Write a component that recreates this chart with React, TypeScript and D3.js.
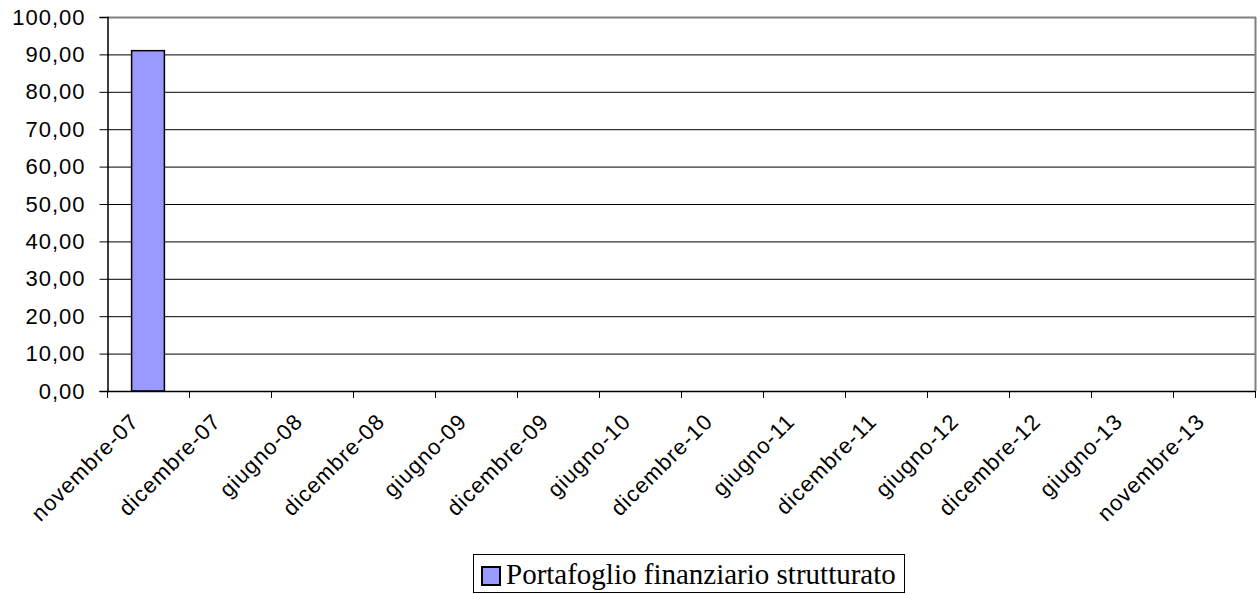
import React, { useEffect, useRef } from 'react';
import * as d3 from 'd3';

const categories = [
  'novembre-07', 'dicembre-07', 'giugno-08', 'dicembre-08', 'giugno-09', 'dicembre-09',
  'giugno-10', 'dicembre-10', 'giugno-11', 'dicembre-11', 'giugno-12', 'dicembre-12',
  'giugno-13', 'novembre-13',
];
const values = [91, 0, 0, 0, 0, 0, 0, 0, 0, 0, 0, 0, 0, 0];
const yTicks = [0, 10, 20, 30, 40, 50, 60, 70, 80, 90, 100];
const seriesName = 'Portafoglio finanziario strutturato';

const App = () => {
  const svgRef = useRef<SVGSVGElement>(null);

  useEffect(() => {
    const svg = d3.select(svgRef.current);
    svg.selectAll('*').remove();

    const left = 107;
    const right = 1255;
    const top = 17;
    const bottom = 391;

    const x = d3.scaleBand().domain(categories).range([left, right]).paddingInner(0).paddingOuter(0);
    const y = d3.scaleLinear().domain([0, 100]).range([bottom, top]);

    // gridlines
    svg.selectAll('.grid')
      .data(yTicks.filter(t => t > 0 && t < 100))
      .enter().append('line')
      .attr('x1', left).attr('x2', right)
      .attr('y1', d => y(d) + 0.5).attr('y2', d => y(d) + 0.5)
      .attr('stroke', '#000').attr('stroke-width', 1);

    // top and right border
    svg.append('line').attr('x1', left).attr('x2', right + 1)
      .attr('y1', top + 0.5).attr('y2', top + 0.5)
      .attr('stroke', '#808080').attr('stroke-width', 2);
    svg.append('line').attr('x1', right + 0.5).attr('x2', right + 0.5)
      .attr('y1', top).attr('y2', bottom)
      .attr('stroke', '#808080').attr('stroke-width', 2);

    // bars
    svg.selectAll('.bar')
      .data(categories.map((c, i) => ({ c, v: values[i] })).filter(d => d.v > 0))
      .enter().append('rect')
      .attr('x', d => x(d.c)! + x.bandwidth() * 0.3)
      .attr('width', x.bandwidth() * 0.4)
      .attr('y', d => y(d.v))
      .attr('height', d => y(0) - y(d.v))
      .attr('fill', '#9999ff')
      .attr('stroke', '#000')
      .attr('stroke-width', 1.5);

    // y axis
    const yAxis = d3.axisLeft(y).tickValues(yTicks).tickSize(8)
      .tickFormat(d => d3.format('.2f')(d as number).replace('.', ','));
    const ya = svg.append('g').attr('transform', `translate(${left + 0.5},0)`).call(yAxis);
    ya.select('.domain').attr('stroke', '#000').attr('stroke-width', 1.5);
    ya.selectAll('.tick line').attr('stroke', '#000');
    ya.selectAll('text')
      .attr('x', -22)
      .attr('font-family', 'Liberation Sans, Arial, sans-serif')
      .attr('font-size', 22)
      .attr('letter-spacing', 1)
      .attr('fill', '#000');

    // x axis
    svg.append('line').attr('x1', left).attr('x2', right)
      .attr('y1', bottom + 0.5).attr('y2', bottom + 0.5)
      .attr('stroke', '#000').attr('stroke-width', 1.5);
    const edges = categories.map(c => x(c)!).concat([right]);
    svg.selectAll('.xtick')
      .data(edges)
      .enter().append('line')
      .attr('x1', d => d + 0.5).attr('x2', d => d + 0.5)
      .attr('y1', bottom).attr('y2', bottom + 7)
      .attr('stroke', '#000');

    svg.selectAll('.xlabel')
      .data(categories)
      .enter().append('text')
      .attr('transform', d => `translate(${x(d)! + x.bandwidth() / 2 - 8},${bottom + 32}) rotate(-45)`)
      .attr('text-anchor', 'end')
      .attr('font-family', 'Liberation Sans, Arial, sans-serif')
      .attr('font-size', 22)
      .attr('letter-spacing', 1)
      .attr('fill', '#000')
      .text(d => d);

    // legend
    const lg = svg.append('g');
    lg.append('rect')
      .attr('x', 473.5).attr('y', 554.5).attr('width', 431).attr('height', 38)
      .attr('fill', '#fff').attr('stroke', '#000').attr('stroke-width', 1);
    lg.append('rect')
      .attr('x', 482).attr('y', 567).attr('width', 18).attr('height', 18)
      .attr('fill', '#9999ff').attr('stroke', '#000').attr('stroke-width', 2);
    lg.append('text')
      .attr('x', 506).attr('y', 584)
      .attr('font-family', 'Liberation Serif, Times New Roman, serif')
      .attr('font-size', 29)
      .attr('fill', '#000')
      .text(seriesName);
  }, []);

  return (
    <svg ref={svgRef} width="1257" height="594" style={{ position: 'absolute', left: 0, top: 0 }}></svg>
  );
};

export default App;
